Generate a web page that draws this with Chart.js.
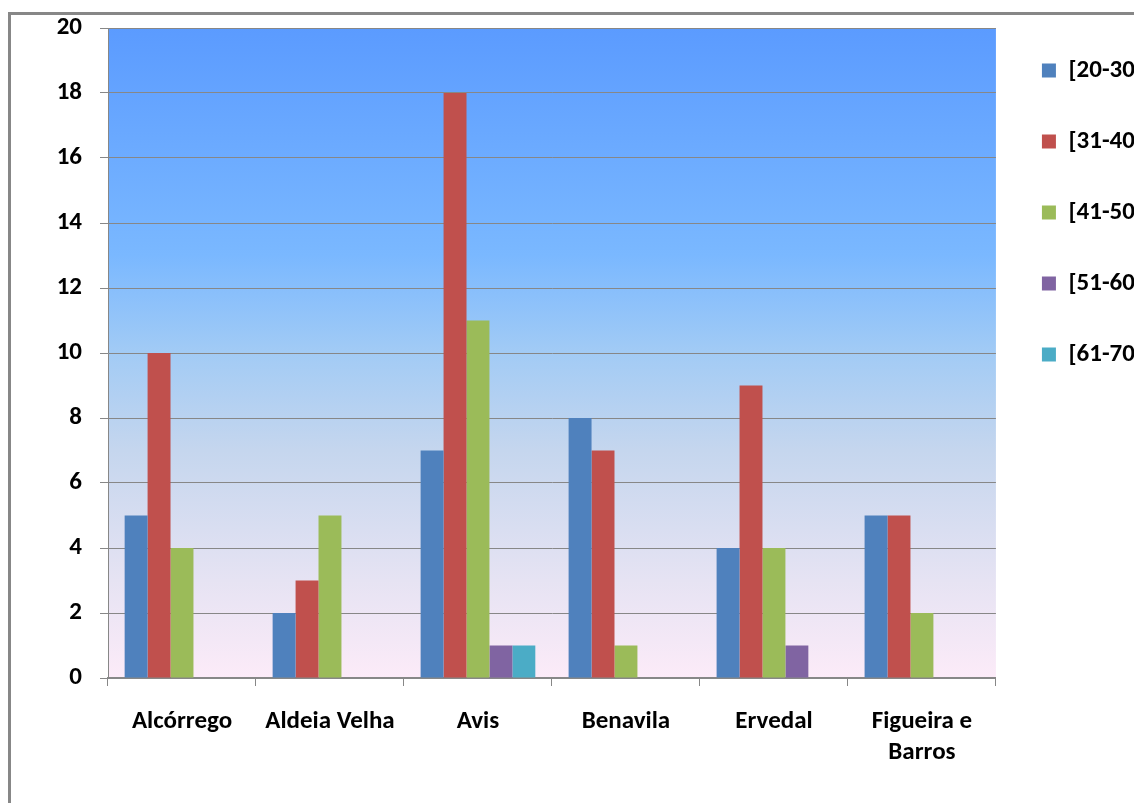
<!DOCTYPE html>
<html>
<head>
<meta charset="utf-8">
<script src="https://cdn.jsdelivr.net/npm/chart.js@4"></script>
<style>
  body { margin: 0; overflow: hidden; background: #fff; }
  #wrap { position: absolute; left: 0; top: 0; width: 1153px; height: 803px; }
</style>
</head>
<body>
<div id="wrap"><canvas id="ageChart" width="1153" height="803"></canvas></div>
<script>
const localities = ['Alcórrego', 'Aldeia Velha', 'Avis', 'Benavila', 'Ervedal', ['Figueira e', 'Barros']];
const age20to30 = [5, 2, 7, 8, 4, 5];
const age31to40 = [10, 3, 18, 7, 9, 5];
const age41to50 = [4, 5, 11, 1, 4, 2];
const age51to60 = [0, 0, 1, 0, 1, 0];
const age61to70 = [0, 0, 1, 0, 0, 0];
const yTicks = [0, 2, 4, 6, 8, 10, 12, 14, 16, 18, 20];

// gradient behind the plot + grey frame
const backdrop = {
  id: 'backdrop',
  beforeDraw(chart) {
    const { ctx, chartArea: a } = chart;
    ctx.save();
    ctx.strokeStyle = '#878787';
    ctx.lineWidth = 3;
    ctx.strokeRect(9.5, 13.5, 1300, 900);
    const g = ctx.createLinearGradient(0, a.top, 0, a.bottom);
    g.addColorStop(0, '#5b9bff');
    g.addColorStop(0.35, '#7ab8ff');
    g.addColorStop(0.5, '#a2cbf5');
    g.addColorStop(0.65, '#c5d6ee');
    g.addColorStop(0.85, '#e6e3f3');
    g.addColorStop(1, '#fcebf8');
    ctx.fillStyle = g;
    ctx.fillRect(a.left, a.top, a.right - a.left, a.bottom - a.top);
    ctx.restore();
  }
};

const fam = 'Calibri, Carlito, "Open Sans", sans-serif';

const ctx = document.getElementById('ageChart').getContext('2d');
const ageChart = new Chart(ctx, {
  type: 'bar',
  data: {
    labels: localities,
    datasets: [
      { label: '[20-30]', data: age20to30, backgroundColor: '#4f81bd' },
      { label: '[31-40]', data: age31to40, backgroundColor: '#c0504d' },
      { label: '[41-50]', data: age41to50, backgroundColor: '#9bbb59' },
      { label: '[51-60]', data: age51to60, backgroundColor: '#8064a2' },
      { label: '[61-70]', data: age61to70, backgroundColor: '#4bacc6' }
    ]
  },
  options: {
    responsive: false,
    animation: false,
    layout: { padding: { left: 0, top: 12, right: 0, bottom: 0 } },
    datasets: { bar: { categoryPercentage: 0.775, barPercentage: 1, borderWidth: 0 } },
    plugins: {
      legend: {
        position: 'right',
        align: 'start',
        labels: {
          color: '#000',
          font: { family: fam, size: 25, weight: 'bold', lineHeight: 1.18 },
          boxWidth: 14,
          boxHeight: 14,
          padding: 46
        }
      },
      tooltip: { enabled: false }
    },
    scales: {
      x: {
        afterFit: axis => { axis.height = 125; },
        grid: { display: true, drawOnChartArea: false, color: '#878787', tickLength: 8, offset: true },
        border: { color: '#878787', width: 2 },
        ticks: { color: '#000', font: { family: fam, size: 25, weight: 'bold', lineHeight: 1.24 }, padding: 20, maxRotation: 0 }
      },
      y: {
        min: 0,
        max: 20,
        afterFit: axis => { axis.width = 108; },
        afterBuildTicks: axis => { axis.ticks = yTicks.map(v => ({ value: v })); },
        grid: { color: '#878787', tickLength: 8 },
        border: { color: '#878787', width: 1 },
        ticks: { color: '#000', font: { family: fam, size: 25, weight: 'bold', lineHeight: 0.8 }, padding: 18 }
      }
    }
  },
  plugins: [backdrop]
});
</script>
</body>
</html>
